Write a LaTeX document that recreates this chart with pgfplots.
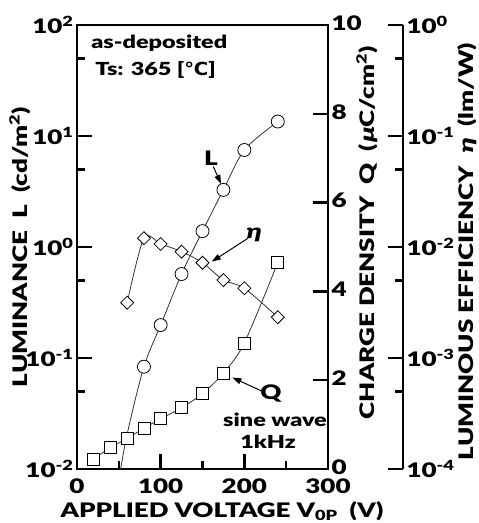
\documentclass[border=0pt]{standalone}
\usepackage{pgfplots}
\pgfplotsset{compat=1.18}
\usepackage{fontspec}
\setmainfont{Lato Black}[FakeStretch=1.3, ItalicFeatures={FakeSlant=0.2}, BoldFont={Lato Black}, BoldItalicFont={Lato Black}, BoldItalicFeatures={FakeSlant=0.2}]
\newfontfamily\symf{DejaVu Sans}[FakeStretch=1.1]
\usetikzlibrary{arrows.meta}

\newcommand\lab{\fontsize{20}{22}\selectfont\bfseries}
\newcommand\sm{\fontsize{18}{20}\selectfont\bfseries}
\newcommand\pw[1]{10\textsuperscript{#1}}

\tikzset{mk/.style={fill=white, draw=black, line width=0.8pt, solid}}
\pgfplotsset{
  base/.style={
    width=251pt, height=444pt, scale only axis,
    xmin=0, xmax=300,
    axis line style={line width=2.8pt},
    every tick/.style={black, line width=2.4pt},
    major tick length=15pt, minor tick length=8pt,
    tick align=inside,
    tick label style={font=\lab},
    label style={font=\lab},
    /pgf/number format/assume math mode=true,
  },
  ser/.style={black!80, line width=0.8pt, smooth, tension=0.5},
}

\begin{document}
\begin{tikzpicture}
\useasboundingbox (-77pt,-54pt) rectangle (402pt,469pt);

% luminance L (left scale)
\begin{axis}[base,
  ymode=log, ymin=1e-2, ymax=1e2,
  xtick={0,100,200,300}, minor xtick={50,150,250},
  xtick pos=left, ytick pos=left,
  xticklabel style={yshift=-6pt},
  ytick={1e-2,1e-1,1,10,100},
  yticklabels={\pw{-2},\pw{-1},\pw{0},\pw{1},\pw{2}},
  minor ytick={0.05,0.5,5,50},
  xlabel={APPLIED VOLTAGE V\textsubscript{0P}\ \ (V)},
  xlabel style={at={(axis description cs:0.578,-0.095)}, anchor=center},
  ylabel={LUMINANCE\ \ L\ \ (cd/m\textsuperscript{2})},
  ylabel style={at={(axis description cs:-0.227,0.5)}, anchor=center},
]
\addplot[ser, mark=*, mark size=6.5pt, mark options={mk},
  mark indices={2,3,4,5,6,7,8,9}] coordinates {
  (50,0.008) (60,0.0207) (80,0.0835) (100,0.198) (125,0.571)
  (150,1.39) (175,3.27) (200,7.48) (240,13.5)
};
\node[font=\sm, anchor=base west, inner sep=0] at (rel axis cs:0.056,0.948) {as-deposited};
\node[font=\sm, anchor=base west, inner sep=0] at (rel axis cs:0.072,0.887) {Ts: 365 [{\symf\bfseries ℃}]};
\node[font=\sm, anchor=base, inner sep=0] at (rel axis cs:0.789,0.0946) {sine wave};
\node[font=\sm, anchor=base, inner sep=0] at (rel axis cs:0.761,0.047) {1kHz};
\node[font=\lab, inner sep=0] at (rel axis cs:0.534,0.700) {L};
\node[font=\lab, inner sep=0] at (rel axis cs:0.701,0.527) {\textit{η}};
\node[font=\lab, inner sep=0] at (rel axis cs:0.773,0.169) {Q};
\draw[line width=1pt, -{Triangle[length=9pt,width=6pt]}] (rel axis cs:0.543,0.681) -- (rel axis cs:0.574,0.642);
\draw[line width=1pt, -{Triangle[length=9pt,width=6pt]}] (rel axis cs:0.682,0.520) -- (rel axis cs:0.537,0.467);
\draw[line width=1pt, -{Triangle[length=9pt,width=6pt]}] (rel axis cs:0.742,0.174) -- (rel axis cs:0.619,0.206);
\end{axis}

% charge density Q (first right scale)
\begin{axis}[base,
  ymin=0, ymax=10,
  axis y line*=right, axis x line=none,
  ytick={0,2,4,6,8,10},
  yticklabel style={yshift=2pt},
  ylabel={CHARGE DENSITY\ \ Q\ \ (\textit{μ}C/cm\textsuperscript{2})},
  ylabel style={at={(axis description cs:1.155,0.532)}, anchor=center},
]
\addplot[ser, mark=square*, mark size=6pt, mark options={mk}] coordinates {
  (20,0.225) (40,0.48) (60,0.69) (80,0.917) (100,1.13)
  (125,1.38) (150,1.70) (175,2.16) (200,2.84) (240,4.65)
};
\end{axis}

% luminous efficiency eta data
\begin{axis}[base, hide axis,
  ymode=log, ymin=1e-4, ymax=1,
]
\addplot[ser, mark=square*, mark size=4.6pt, mark options={mk, rotate=45}] coordinates {
  (60,0.00315) (80,0.0120) (100,0.01064) (125,0.00908)
  (150,0.00722) (175,0.00504) (200,0.00425) (240,0.00233)
};
\end{axis}

% luminous efficiency scale (second right scale)
\begin{axis}[base, at={(75pt,0pt)},
  ymode=log, ymin=1e-4, ymax=1,
  axis y line*=right, axis x line=none,
  ytick={1e-4,1e-3,1e-2,1e-1,1},
  yticklabels={\pw{-4},\pw{-3},\pw{-2},\pw{-1},\pw{0}},
  minor ytick={5e-4,5e-3,5e-2,0.5},
  ylabel={LUMINOUS EFFICIENCY\ \ \textit{η}\ \ (lm/W)},
  ylabel style={at={(axis description cs:1.255,0.49)}, anchor=center},
]
\end{axis}
\end{tikzpicture}
\end{document}
